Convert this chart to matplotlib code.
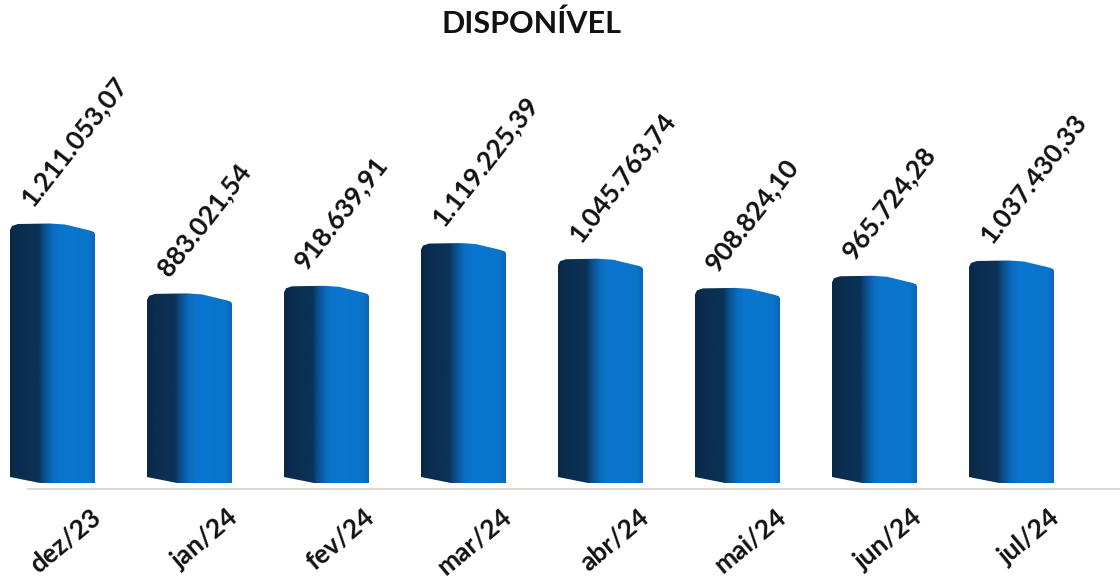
import numpy as np
import matplotlib
matplotlib.use("Agg")
import matplotlib.pyplot as plt
from matplotlib.colors import LinearSegmentedColormap
from matplotlib.patches import Polygon

plt.rcParams['font.family'] = ['Lato', 'DejaVu Sans']

months = ['dez/23', 'jan/24', 'fev/24', 'mar/24', 'abr/24', 'mai/24', 'jun/24', 'jul/24']
values = [1211053.07, 883021.54, 918639.91, 1119225.39, 1045763.74, 908824.10, 965724.28, 1037430.33]


def fmt_br(v):
    s = f"{v:,.2f}"
    return s.replace(',', 'X').replace('.', ',').replace('X', '.')


W, H = 1120, 582
fig = plt.figure(figsize=(W / 100, H / 100), dpi=100)
ax = fig.add_axes([0, 99 / H, 1, 443 / H])

# pixel scale of the data axes
spacing = 137.0
px_per_val = 258.0 / 1211053.07
xmin = -52.5 / spacing
xmax = (W - 52.5) / spacing
ymax = 443 / px_per_val
ax.set_xlim(xmin, xmax)
ax.set_ylim(0, ymax)
ax.axis('off')

PX = 1 / spacing          # one pixel in x data units
PY = 1 / px_per_val       # one pixel in y data units

shade = LinearSegmentedColormap.from_list('bar3d', [
    (0.00, '#0a2744'),
    (0.10, '#0b2d4f'),
    (0.33, '#0b3356'),
    (0.39, '#0b4c88'),
    (0.50, '#0a6dc0'),
    (0.60, '#0b76cf'),
    (0.92, '#0a74cb'),
    (1.00, '#0866b8'),
])
grad = np.linspace(0, 1, 256).reshape(1, -1)

x = np.arange(len(months))
for xi, v in zip(x, values):
    left = xi - 42.5 * PX
    top = v
    # outline of the cylinder-like bar (offsets in pixels)
    poly = [
        (left, 6 * PY),
        (left + 30 * PX, 0),
        (left + 85 * PX, 0),
        (left + 85 * PX, top - 9 * PY),
        (left + 84 * PX, top - 7 * PY),
        (left + 80 * PX, top - 5.5 * PY),
        (left + 55 * PX, top + 0.5 * PY),
        (left + 40 * PX, top + 1.5 * PY),
        (left + 8 * PX, top + 1 * PY),
        (left + 2 * PX, top - 1 * PY),
        (left, top - 5 * PY),
    ]
    patch = Polygon(poly, closed=True, facecolor='none', edgecolor='none')
    ax.add_patch(patch)
    im = ax.imshow(grad, cmap=shade, aspect='auto',
                   extent=(left, left + 85 * PX, 0, top + 2 * PY), zorder=2)
    im.set_clip_path(patch)

    ax.text(left + 22 * PX, top + 17 * PY, fmt_br(v), rotation=52,
            rotation_mode='anchor', ha='left', va='baseline',
            fontsize=19, fontweight='bold', color='#111111', zorder=3)

    ax.text(xi + 50 * PX, -37 * PY, months[xi], rotation=40,
            rotation_mode='anchor', ha='right', va='baseline',
            fontsize=19, fontweight='bold', color='#111111', clip_on=False)

# floor line
ax.plot([xmin + 28 * PX, xmax], [-6 * PY, -6 * PY], color='#d9d2cc',
        lw=1.2, clip_on=False, zorder=1)

fig.text(531 / W, 1 - 33 / H, 'DISPONÍVEL', ha='center', va='baseline',
         fontsize=22, fontweight='bold', color='#111111')

fig.savefig('out.png', dpi=100, facecolor='white')
